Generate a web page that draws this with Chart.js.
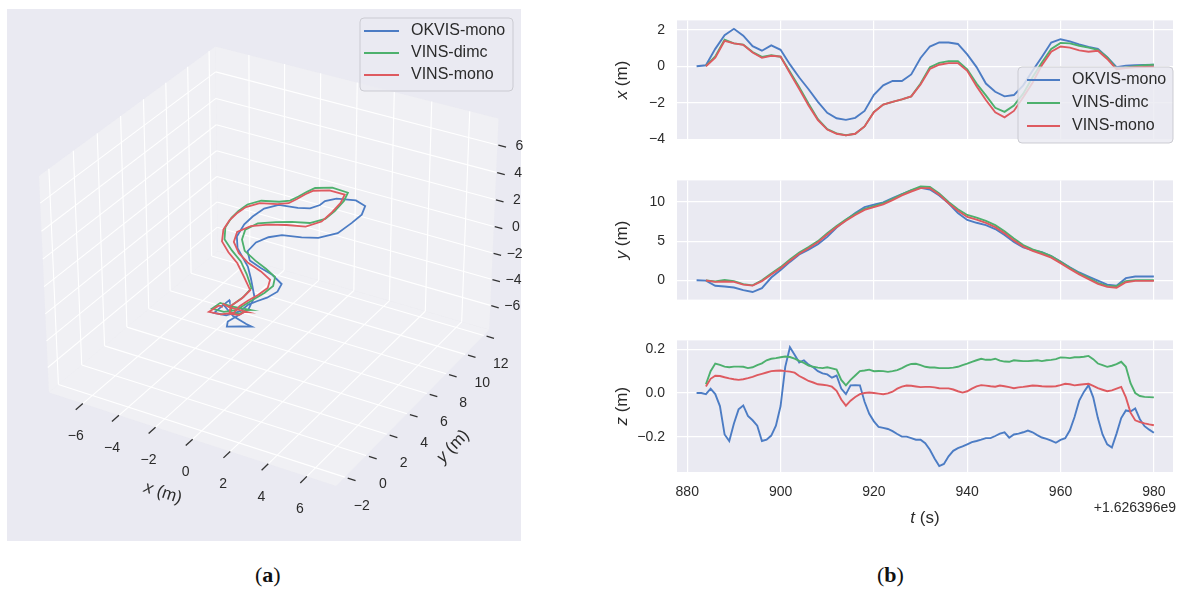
<!DOCTYPE html>
<html><head><meta charset="utf-8">
<script src="https://cdn.jsdelivr.net/npm/chart.js@4.4.1/dist/chart.umd.min.js"></script>
<style>
body{margin:0;background:#fff;width:1185px;height:589px;position:relative;overflow:hidden;}
canvas{position:absolute;}
.lab{position:absolute;font-family:'Liberation Serif',serif;font-size:22px;line-height:22px;color:#111;}
</style></head><body>
<canvas id="c3d" width="530" height="550" style="left:0;top:0"></canvas>
<canvas id="cx" width="585" height="160" style="left:600px;top:0"></canvas>
<canvas id="cy" width="585" height="160" style="left:600px;top:160px"></canvas>
<canvas id="cz" width="585" height="225" style="left:600px;top:320px"></canvas>
<div class="lab" style="left:255px;top:564px">(<b>a</b>)</div>
<div class="lab" style="left:877px;top:564px">(<b>b</b>)</div>
<script>
// ---------------- data ----------------
const SERIES = ['OKVIS-mono', 'VINS-dimc', 'VINS-mono'];
const COLORS = ['#4C7CC4', '#4DB06D', '#DE5A60'];

// time (s, relative to offset) for x and y samples
const tXY = [882,884,886,888,890,892,894,896,898,900,902,904,906,908,910,912,914,916,918,920,
             922,924,926,928,930,932,934,936,938,940,942,944,946,948,950,952,954,956,958,960,
             962,964,966,968,970,972,974,976,978,980];
const xOKVIS = [0,0.05,0.95,1.7,2.05,1.67,1.1,0.85,1.14,0.9,0.1,-0.62,-1.26,-1.95,-2.55,-2.85,-2.94,-2.83,-2.45,-1.57,
                -1.05,-0.81,-0.81,-0.45,0.45,1.08,1.3,1.3,1.22,0.65,-0.05,-0.95,-1.4,-1.65,-1.58,-1.05,-0.25,0.51,1.3,1.48,
                1.36,1.2,1.06,0.95,0.5,-0.05,0.03,0.05,0.07,0.08];
const xDIMC = [null,0.02,0.53,1.45,1.25,1.18,0.78,0.51,0.6,0.52,-0.3,-1.15,-2.05,-2.9,-3.45,-3.68,-3.78,-3.7,-3.3,-2.5,
               -2.1,-1.95,-1.82,-1.65,-0.95,-0.05,0.18,0.28,0.27,-0.17,-0.95,-1.6,-2.28,-2.5,-2.15,-1.5,-0.6,0.2,0.95,1.28,
               1.25,1.12,1.02,0.9,0.48,-0.13,-0.07,0.0,0.06,0.08];
const xMONO = [null,0.0,0.47,1.39,1.25,1.17,0.75,0.46,0.57,0.53,-0.38,-1.25,-2.15,-2.95,-3.47,-3.7,-3.79,-3.7,-3.3,-2.52,
               -2.1,-1.95,-1.82,-1.65,-1.0,-0.15,0.08,0.17,0.17,-0.25,-1.1,-1.85,-2.52,-2.8,-2.45,-1.7,-0.9,0.05,0.8,1.08,
               1.02,0.87,0.79,0.85,0.4,-0.17,-0.1,-0.06,-0.04,-0.02];
const yOKVIS = [0,-0.05,-0.7,-0.8,-0.92,-1.25,-1.5,-1.0,0.35,1.3,2.35,3.3,3.92,4.6,5.55,6.75,7.7,8.6,9.35,9.67,
                9.95,10.5,11.0,11.5,11.82,11.6,10.85,9.85,8.6,7.72,7.35,7.05,6.55,5.8,4.9,4.2,3.85,3.6,3.1,2.4,
                1.65,1.0,0.47,-0.05,-0.55,-0.7,0.27,0.48,0.48,0.48];
const yDIMC = [null,-0.03,-0.15,0.03,-0.1,-0.5,-0.65,0.0,0.85,1.68,2.65,3.55,4.25,5.0,6.0,6.95,7.78,8.5,9.13,9.48,
               9.85,10.4,11.0,11.52,11.98,11.92,11.1,10.0,9.08,8.35,8.0,7.6,7.05,6.25,5.35,4.5,3.95,3.55,3.1,2.35,
               1.6,0.9,0.3,-0.33,-0.72,-0.75,-0.12,0.0,0.0,0.0];
const yMONO = [null,-0.03,-0.2,-0.15,-0.2,-0.55,-0.68,-0.1,0.75,1.55,2.5,3.4,4.1,4.85,5.85,6.8,7.62,8.35,9.0,9.35,
               9.7,10.25,10.85,11.35,11.78,11.78,10.95,9.85,8.9,8.1,7.75,7.35,6.8,6.0,5.1,4.3,3.75,3.35,2.9,2.2,
               1.45,0.75,0.15,-0.45,-0.85,-0.95,-0.25,-0.08,-0.07,-0.07];

// time for z samples (1 s)
const tZ = [882,883,884,885,886,887,888,889,890,891,892,893,894,895,896,897,898,899,900,901,
            902,903,904,905,906,907,908,909,910,911,912,913,914,915,916,917,918,919,920,921,
            922,923,924,925,926,927,928,929,930,931,932,933,934,935,936,937,938,939,940,941,
            942,943,944,945,946,947,948,949,950,951,952,953,954,955,956,957,958,959,960,961,
            962,963,964,965,966,967,968,969,970,971,972,973,974,975,976,977,978,979,980];
const zOKVIS = [0.0,0.0,-0.005,0.02,-0.005,-0.06,-0.19,-0.22,-0.14,-0.075,
                -0.057,-0.105,-0.125,-0.15,-0.22,-0.214,-0.195,-0.15,-0.06,0.12,
                0.21,0.175,0.14,0.15,0.13,0.118,0.1,0.09,0.085,0.07,
                0.08,0.02,-0.005,0.035,0.036,0.035,-0.04,-0.095,-0.13,-0.155,
                -0.16,-0.165,-0.175,-0.188,-0.2,-0.2,-0.207,-0.214,-0.214,-0.23,
                -0.26,-0.3,-0.335,-0.325,-0.29,-0.265,-0.253,-0.245,-0.235,-0.225,
                -0.22,-0.214,-0.207,-0.207,-0.197,-0.186,-0.18,-0.205,-0.19,-0.186,
                -0.18,-0.172,-0.18,-0.193,-0.204,-0.21,-0.218,-0.228,-0.215,-0.207,
                -0.171,-0.11,-0.035,0.005,0.036,-0.02,-0.115,-0.19,-0.235,-0.25,
                -0.186,-0.115,-0.08,-0.085,-0.071,-0.12,-0.152,-0.168,-0.182];
const zDIMC = [null,null,0.04,0.1,0.135,0.129,0.121,0.118,0.121,0.121,
               0.12,0.114,0.118,0.128,0.136,0.15,0.157,0.16,0.164,0.167,
               0.165,0.157,0.147,0.138,0.126,0.12,0.116,0.114,0.118,0.113,
               0.107,0.06,0.035,0.06,0.08,0.1,0.103,0.107,0.1,0.101,
               0.1,0.097,0.1,0.105,0.114,0.125,0.133,0.134,0.128,0.12,
               0.117,0.117,0.114,0.114,0.114,0.116,0.12,0.128,0.135,0.143,
               0.15,0.157,0.152,0.152,0.157,0.148,0.144,0.143,0.15,0.148,
               0.146,0.146,0.148,0.15,0.146,0.15,0.152,0.155,0.163,0.162,
               0.16,0.164,0.164,0.166,0.17,0.155,0.135,0.128,0.12,0.125,
               0.132,0.143,0.12,0.045,0.0,-0.014,-0.018,-0.019,-0.02];
const zMONO = [null,null,0.03,0.065,0.079,0.078,0.072,0.067,0.063,0.06,
               0.063,0.068,0.074,0.082,0.088,0.094,0.1,0.102,0.103,0.1,
               0.098,0.093,0.078,0.067,0.055,0.048,0.04,0.038,0.035,0.029,
               0.01,-0.03,-0.058,-0.035,-0.018,-0.005,0.0,0.002,0.0,-0.003,
               -0.006,-0.002,0.006,0.02,0.029,0.034,0.033,0.03,0.027,0.028,
               0.028,0.026,0.022,0.021,0.021,0.016,0.008,0.002,0.008,0.02,
               0.03,0.036,0.034,0.031,0.029,0.034,0.031,0.027,0.022,0.026,
               0.028,0.031,0.034,0.033,0.031,0.03,0.03,0.031,0.036,0.042,
               0.04,0.035,0.038,0.04,0.042,0.033,0.022,0.015,0.008,0.012,
               0.02,0.028,-0.02,-0.09,-0.125,-0.133,-0.139,-0.144,-0.148];

// ticks
const tTicks = [880, 900, 920, 940, 960, 980];
const tTickLabels = ['880', '900', '920', '940', '960', '980'];
const tOffsetLabel = '+1.626396e9';
const xTicks = [-4, -2, 0, 2], xTickLabels = ['\u22124', '\u22122', '0', '2'];
const yTicks = [0, 5, 10], yTickLabels = ['0', '5', '10'];
const zTicks = [-0.2, 0, 0.2], zTickLabels = ['\u22120.2', '0.0', '0.2'];
const ticks3X = [-6, -4, -2, 0, 2, 4, 6];
const ticks3Y = [-2, 0, 2, 4, 6, 8, 10, 12];
const ticks3Z = [-6, -4, -2, 0, 2, 4, 6];

// ---------------- style / layout ----------------
const FONT = "'Liberation Sans', Arial, sans-serif";
const TXT = '#2b2b2b';
const BG = '#EAEAF2';
Chart.defaults.font.family = FONT;
Chart.defaults.color = TXT;
const T_RANGE = [877.8, 984.1];
const LW = 1.9;

function mixText(ctx, parts, cx, cy, rot, size) {
  ctx.save(); ctx.translate(cx, cy); ctx.rotate(rot);
  const fonts = parts.map(p => (p[1] ? 'italic ' : '') + size + 'px ' + FONT);
  let tot = 0;
  parts.forEach((p, i) => { ctx.font = fonts[i]; tot += ctx.measureText(p[0]).width; });
  let x = -tot / 2;
  ctx.textBaseline = 'middle'; ctx.textAlign = 'left'; ctx.fillStyle = TXT;
  parts.forEach((p, i) => { ctx.font = fonts[i]; ctx.fillText(p[0], x, 0); x += ctx.measureText(p[0]).width; });
  ctx.restore();
}
function drawLegend(ctx, box, rows, lineX, textX, size) {
  ctx.save();
  ctx.beginPath();
  if (ctx.roundRect) ctx.roundRect(box[0], box[1], box[2] - box[0], box[3] - box[1], 4);
  else ctx.rect(box[0], box[1], box[2] - box[0], box[3] - box[1]);
  ctx.fillStyle = 'rgba(234,234,242,0.82)'; ctx.fill();
  ctx.strokeStyle = 'rgba(200,200,206,0.9)'; ctx.lineWidth = 1; ctx.stroke();
  ctx.font = size + 'px ' + FONT; ctx.textBaseline = 'middle'; ctx.textAlign = 'left';
  SERIES.forEach((s, k) => {
    ctx.strokeStyle = COLORS[k]; ctx.lineWidth = 2;
    ctx.beginPath(); ctx.moveTo(lineX[0], rows[k]); ctx.lineTo(lineX[1], rows[k]); ctx.stroke();
    ctx.fillStyle = TXT; ctx.fillText(s, textX, rows[k]);
  });
  ctx.restore();
}

const bgPlugin = { id: 'bgfill', beforeDraw(c) {
  const a = c.chartArea, x = c.ctx; x.save(); x.fillStyle = BG;
  x.fillRect(a.left, a.top, a.right - a.left, a.bottom - a.top); x.restore(); } };

// ---------------- time-series subplots ----------------
function makeSub(id, tArr, vals, yRange, yT, yL, showX, padTop, xH, varName, extra) {
  const datasets = vals.map((v, k) => ({
    label: SERIES[k], data: tArr.map((t, i) => ({ x: t, y: v[i] })),
    borderColor: COLORS[k], borderWidth: LW, pointRadius: 0, fill: false, tension: 0, order: 2 - k
  }));
  const textPlugin = { id: 'txt' + id, afterDraw(c) {
    const a = c.chartArea;
    mixText(c.ctx, [[varName, true], [' (m)', false]], 22, (a.top + a.bottom) / 2, -Math.PI / 2, 17);
    if (extra) extra(c);
  } };
  return new Chart(document.getElementById(id), {
    type: 'line',
    data: { datasets },
    options: {
      responsive: false, animation: false, events: [],
      layout: { padding: { top: padTop, right: 12, left: 0, bottom: 0 } },
      plugins: { legend: { display: false }, tooltip: { enabled: false } },
      scales: {
        x: { type: 'linear', min: T_RANGE[0], max: T_RANGE[1],
             grid: { color: '#ffffff', lineWidth: 1.2, drawTicks: false }, border: { display: false },
             ticks: { display: showX, padding: 12, maxRotation: 0, font: { size: 14 }, color: TXT,
                      callback: (v, i) => tTickLabels[i] },
             afterBuildTicks: s => { s.ticks = tTicks.map(v => ({ value: v })); },
             afterFit: s => { s.height = xH; } },
        y: { type: 'linear', min: yRange[0], max: yRange[1],
             grid: { color: '#ffffff', lineWidth: 1.2, drawTicks: false }, border: { display: false },
             ticks: { padding: 12, font: { size: 14 }, color: TXT, callback: (v, i) => yL[i] },
             afterBuildTicks: s => { s.ticks = yT.map(v => ({ value: v })); },
             afterFit: s => { s.width = 77; } }
      }
    },
    plugins: [bgPlugin, textPlugin]
  });
}

makeSub('cx', tXY, [xOKVIS, xDIMC, xMONO], [-4.02, 2.51], xTicks, xTickLabels, false, 10, 13, 'x',
  c => drawLegend(c.ctx, [418, 67, 573, 143], [80, 103, 126], [427, 460], 472, 16));
makeSub('cy', tXY, [yOKVIS, yDIMC, yMONO], [-2.47, 12.77], yTicks, yTickLabels, false, 12, 10, 'y', null);
makeSub('cz', tZ, [zOKVIS, zDIMC, zMONO], [-0.362, 0.241], zTicks, zTickLabels, true, 14, 73, 'z',
  c => {
    mixText(c.ctx, [['t', true], [' (s)', false]], 325, 198, 0, 17);
    const x = c.ctx; x.save(); x.font = '14px ' + FONT; x.fillStyle = TXT;
    x.textAlign = 'right'; x.textBaseline = 'middle'; x.fillText(tOffsetLabel, 576, 188); x.restore();
  });

// ---------------- 3-D trajectory panel ----------------
const X3 = [-7.9, 7.5], Y3 = [-2.8, 12.6], Z3 = [-7.9, 7.9];
const VIEW = { elev: 30, azim: -60, dist: 10, scale: 2880, cx: 273, cy: 256, box: [1.1429, 1.1429, 0.857] };
const el = VIEW.elev * Math.PI / 180, az = VIEW.azim * Math.PI / 180;
const Wv = [Math.cos(el) * Math.cos(az), Math.cos(el) * Math.sin(az), Math.sin(el)];
const Uv = [-Math.sin(az), Math.cos(az), 0];
const Vv = [-Math.sin(el) * Math.cos(az), -Math.sin(el) * Math.sin(az), Math.cos(el)];
const dot = (a, b) => a[0] * b[0] + a[1] * b[1] + a[2] * b[2];
function P(x, y, z) {
  const B = VIEW.box;
  const d = [(x - X3[0]) / (X3[1] - X3[0]) * B[0] - B[0] / 2,
             (y - Y3[0]) / (Y3[1] - Y3[0]) * B[1] - B[1] / 2,
             (z - Z3[0]) / (Z3[1] - Z3[0]) * B[2] - B[2] / 2];
  const den = VIEW.dist - dot(Wv, d);
  return [VIEW.cx + VIEW.scale * dot(Uv, d) / den, VIEW.cy - VIEW.scale * dot(Vv, d) / den];
}
function path3d(xs, ys, zs) {
  const pts = [];
  tXY.forEach((t, i) => {
    const zi = tZ.indexOf(t);
    if (xs[i] == null || ys[i] == null || zs[zi] == null) return;
    const p = P(xs[i], ys[i], zs[zi]);
    pts.push({ x: p[0], y: p[1] });
  });
  return pts;
}
const W3 = 530, H3 = 550;
const paneLines = (ctx, pts) => { ctx.beginPath(); pts.forEach((p, i) => i ? ctx.lineTo(p[0], p[1]) : ctx.moveTo(p[0], p[1])); };
const axes3dPlugin = {
  id: 'axes3d',
  beforeDraw(c) {
    const ctx = c.ctx; ctx.save(); ctx.fillStyle = BG; ctx.fillRect(7, 9, 514, 532); ctx.restore();
  },
  beforeDatasetsDraw(c) {
    const ctx = c.ctx; ctx.save();
    const [x0, x1] = X3, [y0, y1] = Y3, [z0, z1] = Z3;
    const panes = [
      [P(x0, y0, z0), P(x1, y0, z0), P(x1, y1, z0), P(x0, y1, z0)],
      [P(x0, y1, z0), P(x1, y1, z0), P(x1, y1, z1), P(x0, y1, z1)],
      [P(x0, y0, z0), P(x0, y1, z0), P(x0, y1, z1), P(x0, y0, z1)]
    ];
    ctx.fillStyle = 'rgba(246,246,246,0.5)';
    panes.forEach(p => { paneLines(ctx, p); ctx.closePath(); ctx.fill(); });
    ctx.strokeStyle = '#ffffff'; ctx.lineWidth = 1.1;
    const seg = (a, b) => { ctx.beginPath(); ctx.moveTo(a[0], a[1]); ctx.lineTo(b[0], b[1]); ctx.stroke(); };
    ticks3X.forEach(v => { seg(P(v, y0, z0), P(v, y1, z0)); seg(P(v, y1, z0), P(v, y1, z1)); });
    ticks3Y.forEach(v => { seg(P(x0, v, z0), P(x1, v, z0)); seg(P(x0, v, z0), P(x0, v, z1)); });
    ticks3Z.forEach(v => { seg(P(x0, y1, v), P(x1, y1, v)); seg(P(x0, y0, v), P(x0, y1, v)); });
    // ticks + labels
    ctx.strokeStyle = '#333'; ctx.lineWidth = 1.3;
    ctx.fillStyle = TXT; ctx.font = '14px ' + FONT; ctx.textAlign = 'center'; ctx.textBaseline = 'middle';
    const fmt = v => v < 0 ? '\u2212' + Math.abs(v) : String(v);
    ticks3X.forEach(v => { const a = P(v, y0, z0); seg(a, P(v, y0 - 0.6, z0)); ctx.fillText(fmt(v), a[0] - 7, a[1] + 33); });
    ticks3Y.forEach(v => { const a = P(x1, v, z0); seg(P(x1 + 0.15, v, z0), P(x1 + 0.55, v, z0)); ctx.fillText(fmt(v), a[0] + 17, a[1] + 29); });
    ticks3Z.forEach(v => { const a = P(x1, y1, v); seg(P(x1 + 0.05, y1, v), P(x1 + 0.45, y1, v)); ctx.fillText(fmt(v), a[0] + 22, a[1] + 1); });
    // axis titles
    const mx = P((x0 + x1) / 2, y0, z0), my = P(x1, (y0 + y1) / 2, z0), mz = P(x1, y1, (z0 + z1) / 2);
    mixText(ctx, [['x', true], [' (m)', false]], mx[0] - 26, mx[1] + 55, 18 * Math.PI / 180, 17);
    mixText(ctx, [['y', true], [' (m)', false]], my[0] + 37, my[1] + 42, -46 * Math.PI / 180, 17);
    mixText(ctx, [['z', true], [' (m)', false]], mz[0] + 52, mz[1] + 2, -Math.PI / 2, 17);
    ctx.restore();
  },
  afterDatasetsDraw(c) {
    drawLegend(c.ctx, [360, 18, 513, 91], [31, 53, 75], [364, 399], 411, 16);
  }
};
new Chart(document.getElementById('c3d'), {
  type: 'scatter',
  data: { datasets: [
    { label: SERIES[0], data: path3d(xOKVIS, yOKVIS, zOKVIS), borderColor: COLORS[0], showLine: true, pointRadius: 0, borderWidth: 1.8, order: 2 },
    { label: SERIES[1], data: path3d(xDIMC, yDIMC, zDIMC), borderColor: COLORS[1], showLine: true, pointRadius: 0, borderWidth: 1.8, order: 1 },
    { label: SERIES[2], data: path3d(xMONO, yMONO, zMONO), borderColor: COLORS[2], showLine: true, pointRadius: 0, borderWidth: 1.8, order: 0 }
  ] },
  options: {
    responsive: false, animation: false, events: [],
    layout: { padding: 0 },
    plugins: { legend: { display: false }, tooltip: { enabled: false } },
    scales: { x: { type: 'linear', min: 0, max: W3, display: false },
              y: { type: 'linear', min: 0, max: H3, reverse: true, display: false } }
  },
  plugins: [axes3dPlugin]
});
</script>
</body></html>
